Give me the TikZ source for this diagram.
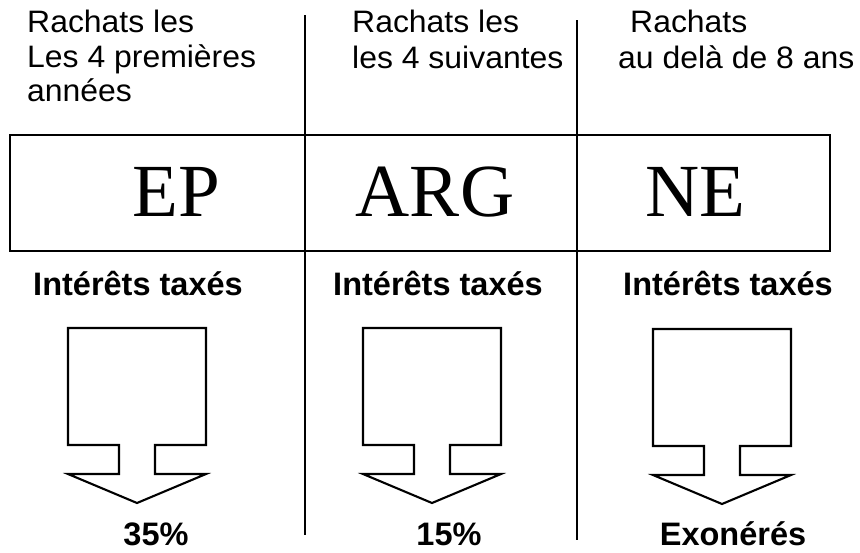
\documentclass[tikz,border=0pt]{standalone}
\usepackage{fontspec}
\setmainfont{Liberation Sans}
\newfontfamily\toptext{Liberation Sans}[FakeStretch=1.03]
\newfontfamily\bigserif{Liberation Serif}
\begin{document}
\begin{tikzpicture}[x=1pt,y=-1pt,
  frame/.style={line width=2pt},
  divider/.style={line width=1.8pt},
  arrowline/.style={line width=2.1pt, line join=miter},
  toplabel/.style={anchor=base west, inner sep=0pt, font=\toptext\fontsize{31}{34}\selectfont},
  code/.style={anchor=base, inner sep=0pt, font=\bigserif\fontsize{75}{80}\selectfont},
  boldlabel/.style={anchor=base, inner sep=0pt, font=\bfseries\fontsize{32.5}{38}\selectfont},
  bigarrow/.pic={\draw[arrowline] (0,0) -- (138,0) -- (138,117) -- (87,117) -- (87,146) -- (138,146) -- (69,175) -- (0,146) -- (51,146) -- (51,117) -- (0,117) -- cycle;}
]
\useasboundingbox (0,0) rectangle (860,552);
% top texts
\node[toplabel] (a1) at (27,32) {Rachats les};
\node[toplabel] (a2) at (27,67) {Les 4 premières};
\node[toplabel] (a3) at (27,101) {années};
\node[toplabel] (b1) at (352,32) {Rachats les};
\node[toplabel] (b2) at (352,68) {les 4 suivantes};
\node[toplabel] (c1) at (630,32) {Rachats};
\node[toplabel] (c2) at (618,68) {au delà de 8 ans};
% frame and dividers
\draw[frame] (10,135) rectangle (830,251);
\coordinate (d1t) at (305,15);
\coordinate (d1b) at (305,535);
\coordinate (d2t) at (577,20);
\coordinate (d2b) at (577,540);
\draw[divider] (d1t) -- (d1b);
\draw[divider] (d2t) -- (d2b);
% codes
\node[code] (ep) at (176,216) {EP};
\node[code] (arg) at (435,216) {ARG};
\node[code] (ne) at (695,216) {NE};
% labels
\node[boldlabel] (i1) at (138,295) {Intérêts taxés};
\node[boldlabel] (i2) at (438,295) {Intérêts taxés};
\node[boldlabel] (i3) at (728,295) {Intérêts taxés};
% arrows
\pic at (68,328) {bigarrow};
\pic at (363,328) {bigarrow};
\pic at (653,329) {bigarrow};
% results
\node[boldlabel] (r1) at (156,545) {35\%};
\node[boldlabel] (r2) at (449,545) {15\%};
\node[boldlabel] (r3) at (733,545) {Exonérés};
\end{tikzpicture}
\end{document}
